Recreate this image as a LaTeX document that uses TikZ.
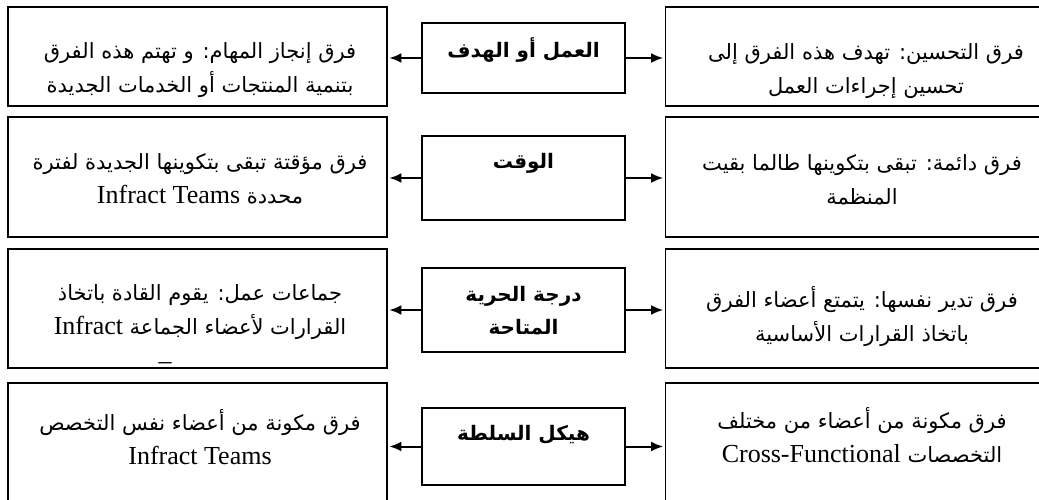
\documentclass[tikz,border=0pt]{standalone}
\usepackage{fontspec}
\setmainfont{Liberation Serif}
\newfontfamily\arabicfont[Script=Arabic]{DejaVu Sans}
\TeXXeTstate=1
\usetikzlibrary{arrows.meta,positioning}
\newcommand{\lat}[1]{\beginL{\rmfamily\fontsize{26}{34}\selectfont #1}\endL}
\tikzset{
    semithick,
    side/.style = {rectangle, draw, line width=1.8pt, minimum width=379pt, inner sep=0pt},
    key/.style = {rectangle, draw, line width=2.8pt, minimum width=203pt, inner sep=0pt},
    sidetxt/.style = {align=center, inner sep=0pt, font=\arabicfont\fontsize{21}{34}\selectfont},
    keytxt/.style = {align=center, inner sep=0pt, font=\arabicfont\bfseries\fontsize{20}{33}\selectfont},
    link/.style = {-{Latex[length=12pt,width=10pt]}, line width=2pt, shorten >=1.5pt}
}

\begin{document}
\begin{tikzpicture}[x=1pt,y=-1pt]
      \useasboundingbox (0,0) rectangle (1039,500);
      \clip (0,0) rectangle (1039,500);

      % middle column
      \node[key, minimum height=70pt] (goal) at (523.5,58) {};
      \node[key, minimum height=84pt] (time) at (523.5,178) {};
      \node[key, minimum height=84pt] (free) at (523.5,310) {};
      \node[key, minimum height=77pt] (auth) at (523.5,446.5) {};

      \node[keytxt] (goalt) at (523.5,50) {\beginR العمل أو الهدف\endR};
      \node[keytxt] (timet) at (523.5,163) {\beginR الوقت\endR};
      \node[keytxt] (freet) at (523.5,311) {\beginR درجة الحرية\endR\\ \beginR المتاحة\endR};
      \node[keytxt] (autht) at (523.5,435) {\beginR هيكل السلطة\endR};

      % left column
      \node[side, minimum height=99pt] (goalL) at (197.5,56.5) {};
      \node[side, minimum height=120pt] (timeL) at (197.5,177) {};
      \node[side, minimum height=119pt] (freeL) at (197.5,308.5) {};
      \node[side, minimum height=122pt] (authL) at (197.5,444) {};

      \node[sidetxt] (goalLt) at (200,70.5) {\beginR فرق إنجاز المهام: و تهتم هذه الفرق\endR\\
          \beginR بتنمية المنتجات أو الخدمات الجديدة\endR};
      \node[sidetxt] (timeLt) at (200,179) {\beginR فرق مؤقتة تبقى بتكوينها الجديدة لفترة\endR\\
          \beginR محددة \lat{Infract Teams}\endR};
      \node[sidetxt] (freeLt) at (200,324) {\beginR جماعات عمل: يقوم القادة باتخاذ\endR\\
          \beginR القرارات لأعضاء الجماعة \lat{Infract}\endR\\[-8pt] \lat{\_}\hspace*{70pt}};
      \node[sidetxt] (authLt) at (200,437.5) {\beginR فرق مكونة من أعضاء نفس التخصص\endR\\
          \lat{Infract Teams}};

      % right column
      \node[side, minimum height=99pt] (goalR) at (855,56.5) {};
      \node[side, minimum height=120pt] (timeR) at (855,177) {};
      \node[side, minimum height=119pt] (freeR) at (855,308.5) {};
      \node[side, minimum height=122pt] (authR) at (855,444) {};

      \node[sidetxt] (goalRt) at (866,71.5) {\beginR فرق التحسين: تهدف هذه الفرق إلى\endR\\
          \beginR تحسين إجراءات العمل\endR};
      \node[sidetxt] (timeRt) at (862,180) {\beginR فرق دائمة: تبقى بتكوينها طالما بقيت\endR\\
          \beginR المنظمة\endR};
      \node[sidetxt] (freeRt) at (862,316.5) {\beginR فرق تدير نفسها: يتمتع أعضاء الفرق\endR\\
          \beginR باتخاذ القرارات الأساسية\endR};
      \node[sidetxt] (authRt) at (862,435) {\beginR فرق مكونة من أعضاء من مختلف\endR\\
          \beginR التخصصات \lat{Cross-Functional}\endR};

      % arrows
      \foreach \k in {goal,time,free,auth} {
        \draw[link] (\k.west) -- (\k.west -| \k L.east);
        \draw[link] (\k.east) -- (\k.east -| \k R.west);
      }
\end{tikzpicture}
\end{document}
